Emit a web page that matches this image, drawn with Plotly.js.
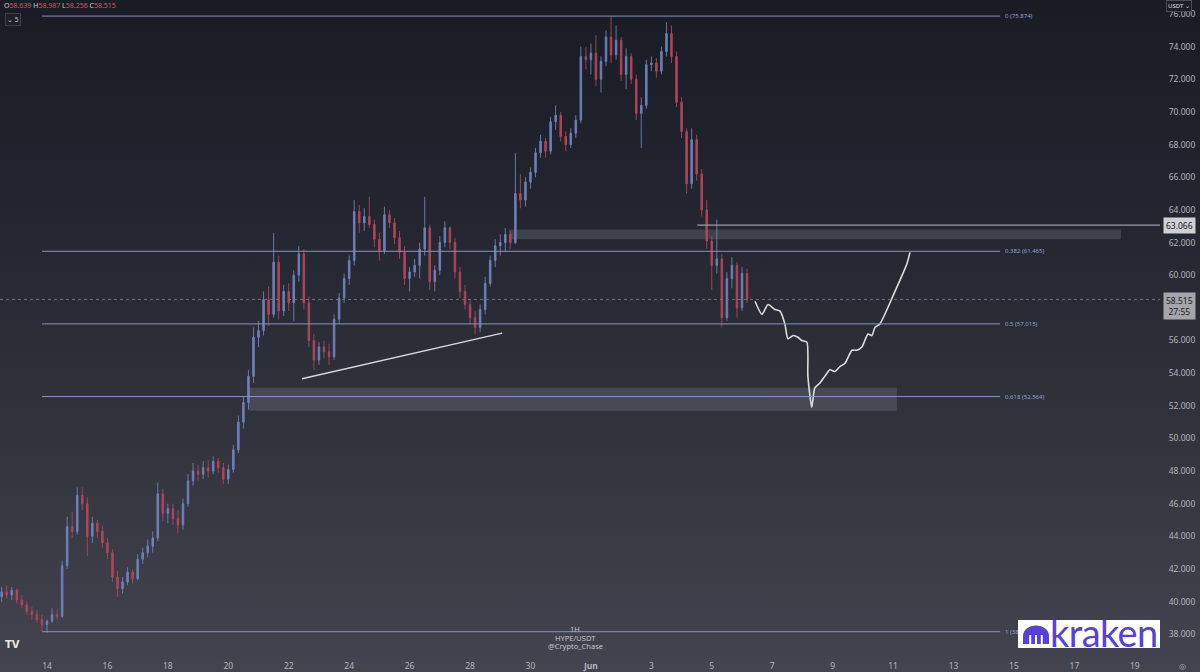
<!DOCTYPE html>
<html><head><meta charset="utf-8">
<script src="https://cdn.plot.ly/plotly-3.0.1.min.js"></script>
<style>
html,body{margin:0;padding:0;width:1200px;height:672px;overflow:hidden;
background:linear-gradient(to bottom,#191c25 0%,#242731 35%,#31333d 65%,#43444f 100%);}
#chart{width:1200px;height:672px;position:absolute;left:0;top:0;}
#kraken{position:absolute;left:1018px;top:620px;width:142px;height:28px;background:#ffffff;overflow:hidden;}
#kraken svg{position:absolute;left:4px;top:5px;}
#kraken span{position:absolute;left:32px;top:-9px;font-family:Lato,"Open Sans",sans-serif;font-size:38px;color:#5741d9;letter-spacing:-0.6px;line-height:42px;}
</style></head>
<body>
<div id="chart"></div>
<div id="kraken"><svg width="28" height="19" viewBox="0 0 28 19"><path d="M1,19 L1,11 A13,10.5 0 0 1 27,11 L27,19 Z" fill="#5741d9"/><rect x="7.2" y="10" width="2" height="10" fill="#fff"/><rect x="13" y="10" width="2" height="10" fill="#fff"/><rect x="18.8" y="10" width="2" height="10" fill="#fff"/></svg><span>kraken</span></div>
<script>
// ---- data (4h candles, HYPE/USDT) ----
const candleStart = Date.UTC(2025, 4, 12, 12, 0);
const candleHours = 4;
const opens = [40.3,40.6,40.4,40.7,40.1,39.8,39.4,39.2,38.9,38.6,38.8,39.2,39.1,42.2,44.6,44.3,46.5,46.0,44.0,44.8,44.3,43.6,43.0,41.5,40.8,41.2,41.8,41.4,42.6,43.0,43.4,43.9,46.6,45.4,45.7,45.1,44.7,46.0,47.4,48.0,47.8,48.2,48.0,48.6,48.2,47.5,48.1,49.3,51.0,52.2,53.8,56.2,56.6,58.5,57.6,60.8,57.8,59.0,58.3,60.0,61.3,58.3,56.0,54.8,55.6,55.3,55.0,57.3,58.6,59.8,60.9,63.9,63.2,63.6,63.1,62.2,61.5,63.7,63.2,62.3,61.4,59.8,60.2,60.6,61.6,62.9,59.6,60.3,62.0,62.9,62.0,60.2,59.0,58.2,57.4,56.8,57.9,59.5,60.9,61.8,62.0,62.5,62.0,65.0,64.6,65.7,66.3,67.5,68.2,67.6,69.4,69.8,68.5,68.0,68.7,69.5,73.4,73.2,73.6,72.0,73.1,74.6,73.5,74.4,72.3,73.4,72.0,69.9,70.4,72.9,73.0,72.5,73.7,74.8,73.4,70.6,68.8,65.6,68.3,66.2,64.0,62.1,60.6,61.0,57.4,59.8,60.6,58.0,60.1];
const highs = [40.9,41.0,40.9,40.8,40.4,40.0,39.7,39.5,39.2,38.9,39.6,39.5,42.5,45.2,45.5,47.0,47.0,46.4,45.2,45.0,44.6,43.9,43.2,41.9,41.5,42.1,42.0,42.9,43.3,43.8,44.3,47.3,46.9,46.0,46.0,45.6,46.3,47.8,48.5,48.4,48.6,48.7,48.9,48.8,48.5,48.4,49.6,51.4,52.6,54.2,56.8,57.2,59.0,59.3,62.6,61.2,59.4,59.5,60.3,61.8,61.6,58.7,56.4,55.9,56.0,55.8,57.6,58.9,60.1,61.2,64.6,64.3,64.1,64.8,63.4,62.6,64.2,64.0,63.5,62.7,61.8,60.5,61.0,62.0,64.8,63.1,60.6,62.4,63.3,63.0,62.3,60.5,59.4,58.5,57.8,58.2,59.9,61.2,62.2,62.5,62.9,62.7,67.5,66.2,66.0,66.6,67.8,68.6,68.4,69.7,70.4,70.0,68.8,69.0,69.8,74.0,74.0,74.2,74.7,73.4,75.0,75.874,75.3,74.6,73.9,73.6,72.3,70.9,73.2,73.4,73.3,74.0,75.5,75.3,73.7,70.9,69.0,69.0,68.6,66.5,64.6,62.4,63.4,61.3,60.2,61.1,60.8,60.5,60.4];
const lows = [40.0,40.2,40.1,39.9,39.6,39.2,38.9,38.7,38.2,38.1,38.7,38.9,39.0,42.0,43.9,44.1,45.6,42.8,43.6,43.9,43.3,42.6,41.2,40.3,40.5,41.0,41.1,41.3,42.3,42.7,43.0,43.7,44.9,44.8,44.7,44.2,44.4,45.8,47.1,47.4,47.5,47.6,47.8,47.9,47.2,47.2,47.9,49.1,50.6,51.8,53.4,55.6,56.3,56.9,57.4,57.3,57.5,57.8,57.2,59.6,57.9,55.6,54.2,54.5,54.9,54.5,54.8,57.0,58.3,59.4,60.6,62.6,62.7,62.9,61.7,60.9,61.3,62.9,61.9,61.0,59.4,59.0,59.9,59.8,61.2,59.1,59.0,60.0,61.7,61.6,59.8,58.6,57.9,57.0,56.4,56.5,57.6,59.3,60.5,61.2,61.4,61.6,61.9,64.1,64.2,65.3,66.0,67.2,67.2,67.4,68.9,68.2,67.6,67.8,68.4,69.3,72.6,72.3,71.6,71.2,72.8,73.0,73.2,71.9,71.4,71.7,69.5,67.8,70.2,72.5,72.1,72.3,73.4,73.0,70.3,68.4,65.0,65.3,65.8,63.6,61.6,59.1,60.1,56.8,57.2,59.2,57.4,57.8,58.3];
const closes = [40.6,40.4,40.7,40.1,39.8,39.4,39.2,38.9,38.6,38.8,39.2,39.1,42.2,44.6,44.3,46.5,46.0,44.0,44.8,44.3,43.6,43.0,41.5,40.8,41.2,41.8,41.4,42.6,43.0,43.4,43.9,46.6,45.4,45.7,45.1,44.7,46.0,47.4,48.0,47.8,48.2,48.0,48.6,48.2,47.5,48.1,49.3,51.0,52.2,53.8,56.2,56.6,58.5,57.6,60.8,57.8,59.0,58.3,60.0,61.3,58.3,56.0,54.8,55.6,55.3,55.0,57.3,58.6,59.8,60.9,63.9,63.2,63.6,63.1,62.2,61.5,63.7,63.2,62.3,61.4,59.8,60.2,60.6,61.6,62.9,59.6,60.3,62.0,62.9,62.0,60.2,59.0,58.2,57.4,56.8,57.9,59.5,60.9,61.8,62.0,62.5,62.0,65.0,64.6,65.7,66.3,67.5,68.2,67.6,69.4,69.8,68.5,68.0,68.7,69.5,73.4,73.2,73.6,72.0,73.1,74.6,73.5,74.4,72.3,73.4,72.0,69.9,70.4,72.9,73.0,72.5,73.7,74.8,73.4,70.6,68.8,65.6,68.3,66.2,64.0,62.1,60.6,61.0,57.4,59.8,60.6,58.0,60.1,58.515];

// projected path (hand-drawn white line)
const projTime = ['2025-06-06 10:20','2025-06-06 15:50','2025-06-06 20:40','2025-06-07 02:10','2025-06-07 06:15','2025-06-07 10:05','2025-06-07 12:30','2025-06-07 16:35','2025-06-07 20:25','2025-06-07 23:30','2025-06-08 03:35','2025-06-08 04:20','2025-06-08 07:25','2025-06-08 09:50','2025-06-08 13:55','2025-06-08 17:45','2025-06-08 21:50','2025-06-09 01:55','2025-06-09 05:45','2025-06-09 09:50','2025-06-09 15:20','2025-06-09 19:10','2025-06-09 23:15','2025-06-10 04:05','2025-06-10 07:10','2025-06-10 09:35','2025-06-10 13:25','2025-06-10 19:10','2025-06-10 23:45','2025-06-11 05:30','2025-06-11 11:00','2025-06-11 13:25'];
const projPrice = [58.4,57.6,58.2,57.9,57.8,57.0,56.1,56.3,56.2,56.0,55.9,53.8,51.9,53.1,53.4,53.8,54.2,54.1,54.4,54.6,55.4,55.4,55.6,56.4,56.3,56.8,57.0,57.9,58.7,59.7,60.7,61.4];

// fibonacci retracement levels
const fibRatios = ['0','0.382','0.5','0.618','1'];
const fibPrices = [75.874,61.465,57.015,52.564,38.156];
const fibStart = '2025-05-13 20:00', fibEnd = '2025-06-14 13:00';

// zones, trend line, levels
const upperZone = {t0:'2025-05-29 07:00', t1:'2025-06-18 13:00', p0:62.2, p1:62.8};
const lowerZone = {t0:'2025-05-20 15:40', t1:'2025-06-11 03:00', p0:51.7, p1:53.1};
const trendLine = {t0:'2025-05-22 10:30', p0:53.65, t1:'2025-05-29 01:30', p1:56.45};
const resistLevel = {t0:'2025-06-04 12:30', price:63.066};
const lastPrice = 58.515;
const countdown = '27:55';
const ohlc = {o:'58.639', h:'58.987', l:'58.256', c:'58.515'};

// price axis ticks (58.000 sits under the last-price tag in the reference)
const yTickVals = [38,40,42,44,46,48,50,52,54,56,60,62,64,66,68,70,72,74,76];
const xTickVals = ['2025-05-14','2025-05-16','2025-05-18','2025-05-20','2025-05-22','2025-05-24','2025-05-26','2025-05-28','2025-05-30','2025-06-01','2025-06-03','2025-06-05','2025-06-07','2025-06-09','2025-06-11','2025-06-13','2025-06-15','2025-06-17','2025-06-19'];
const xTickText = ['14','16','18','20','22','24','26','28','30','<b>Jun</b>','3','5','7','9','11','13','15','17','19'];

const times = closes.map((_, i) => candleStart + i * candleHours * 3600 * 1000);

const PH = 655, PW = 1160;
const py = v => 1 - v / PH, px = v => v / PW;
const FONT = '"Noto Sans", "Open Sans", sans-serif';
const UP = '#7287c0', DN = '#b8475e';

const traces = [
  {type:'candlestick', x:times, open:opens, high:highs, low:lows, close:closes,
   increasing:{line:{color:UP,width:0.9}, fillcolor:UP},
   decreasing:{line:{color:DN,width:0.9}, fillcolor:DN},
   whiskerwidth:0, opacity:0.95, hoverinfo:'skip', showlegend:false},
  {type:'scatter', mode:'lines', x:projTime, y:projPrice,
   line:{color:'#dcdcdc', width:1.6, shape:'spline', smoothing:0.6},
   hoverinfo:'skip', showlegend:false}
];

const shapes = [];
const annotations = [];
[upperZone, lowerZone].forEach(z => shapes.push({type:'rect', xref:'x', yref:'y', x0:z.t0, x1:z.t1, y0:z.p0, y1:z.p1,
  fillcolor:'rgba(170,175,190,0.2)', line:{width:0}, layer:'below'}));
shapes.push({type:'line', xref:'paper', yref:'y', x0:0, x1:1, y0:lastPrice, y1:lastPrice, line:{color:'#6f727c', width:1, dash:'dot'}});
fibPrices.forEach((p, i) => {
  shapes.push({type:'line', xref:'x', yref:'y', x0:fibStart, x1:fibEnd, y0:p, y1:p, line:{color:'#8795bf', width:1}, layer:'above'});
  annotations.push({xref:'x', yref:'y', x:'2025-06-14 15:00', y:p, xanchor:'left', yanchor:'middle', showarrow:false,
    text: fibRatios[i] + ' (' + p.toFixed(3) + ')', font:{family:FONT, size:6, color:'#8fa2d2'}});
});
shapes.push({type:'line', xref:'x', yref:'y', x0:resistLevel.t0, x1:'2025-06-21', y0:resistLevel.price, y1:resistLevel.price, line:{color:'#9a9da6', width:1.2}});
shapes.push({type:'line', xref:'x', yref:'y', x0:trendLine.t0, x1:trendLine.t1, y0:trendLine.p0, y1:trendLine.p1, line:{color:'#d8d8d8', width:1.5}});

annotations.push({xref:'paper', yref:'y', x:px(1163), y:resistLevel.price, xanchor:'left', yanchor:'middle', showarrow:false,
  text:resistLevel.price.toFixed(3), bgcolor:'#cfd0d4', borderpad:2, font:{family:FONT, size:8.5, color:'#131722'}});
annotations.push({xref:'paper', yref:'y', x:px(1163), y:lastPrice, xanchor:'left', yanchor:'top', yshift:7, showarrow:false,
  text:lastPrice.toFixed(3) + '<br>' + countdown, bgcolor:'#a3a5ab', borderpad:2, font:{family:FONT, size:8.5, color:'#1a1c22'}});
const red = s => '<span style="color:#d9506a">' + s + '</span>';
annotations.push({xref:'paper', yref:'paper', x:px(2), y:py(6), xanchor:'left', yanchor:'middle', showarrow:false,
  text:'O' + red(ohlc.o) + ' H' + red(ohlc.h) + ' L' + red(ohlc.l) + ' C' + red(ohlc.c), font:{family:FONT, size:7, color:'#c9cbd1'}});
annotations.push({xref:'paper', yref:'paper', x:px(5), y:py(19.5), xanchor:'left', yanchor:'middle', showarrow:false,
  text:'⌄ 5', bgcolor:'#1d2029', bordercolor:'#3c3f4a', borderwidth:1, borderpad:1, font:{family:FONT, size:6.5, color:'#c9cbd1'}});
annotations.push({xref:'paper', yref:'paper', x:px(1166), y:py(0), xanchor:'left', yanchor:'top', showarrow:false,
  text:'USDT ⌄', bgcolor:'#1b1e26', bordercolor:'#4a4d58', borderwidth:1, borderpad:1, font:{family:FONT, size:6, color:'#e0e2e8'}});
[['1H',629],['HYPE/USDT',637.5],['@Crypto_Chase',646]].forEach(([t, y]) => annotations.push({xref:'paper', yref:'paper', x:px(575), y:py(y),
  xanchor:'center', yanchor:'middle', showarrow:false, text:t, font:{family:FONT, size:7.5, color:'#c4c6cc'}}));
annotations.push({xref:'paper', yref:'paper', x:px(3), y:py(644), xanchor:'left', yanchor:'middle', showarrow:false,
  text:'<b>TV</b>', font:{family:'"DejaVu Sans", sans-serif', size:10, color:'#e8e8ea'}});
annotations.push({xref:'paper', yref:'paper', x:px(1182), y:py(666), xanchor:'center', yanchor:'middle', showarrow:false,
  text:'◎', font:{family:'"DejaVu Sans", sans-serif', size:8, color:'#b2b5be'}});

const layout = {
  width:1200, height:672,
  margin:{l:0, r:40, t:0, b:17, pad:0},
  paper_bgcolor:'rgba(0,0,0,0)', plot_bgcolor:'rgba(0,0,0,0)',
  showlegend:false, dragmode:false, hovermode:false, boxgap:0.55,
  xaxis:{type:'date', range:['2025-05-12 10:40','2025-06-19 20:00'], tickvals:xTickVals, ticktext:xTickText,
    showgrid:false, zeroline:false, showline:false, ticks:'outside', ticklen:3, tickcolor:'rgba(0,0,0,0)',
    tickfont:{family:FONT, size:8.5, color:'#b2b5be'}, rangeslider:{visible:false}, fixedrange:true},
  yaxis:{side:'right', range:[36.73, 76.86], tickvals:yTickVals, tickformat:'.3f',
    showgrid:false, zeroline:false, showline:false, ticks:'outside', ticklen:6, tickcolor:'rgba(0,0,0,0)',
    tickfont:{family:FONT, size:8.5, color:'#b2b5be'}, fixedrange:true},
  shapes:shapes, annotations:annotations
};
Plotly.newPlot('chart', traces, layout, {staticPlot:true, displayModeBar:false});
</script>
</body></html>
